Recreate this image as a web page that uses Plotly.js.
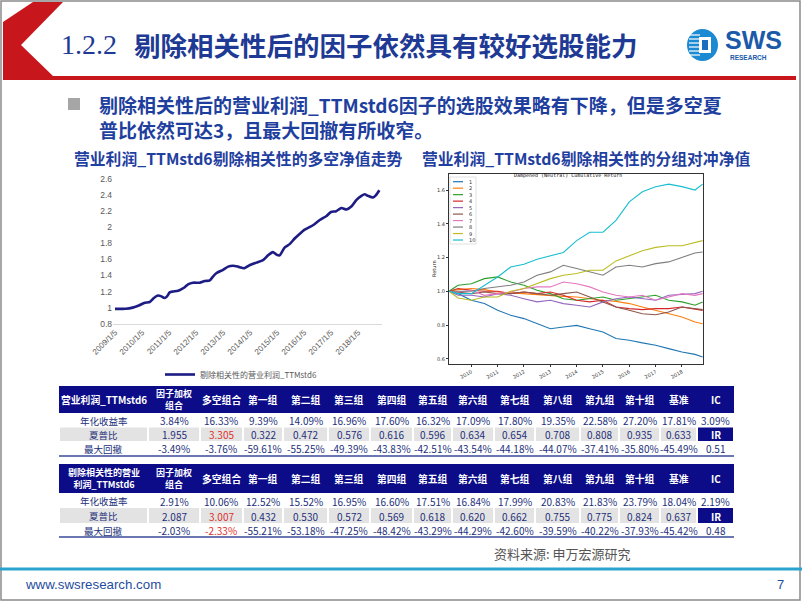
<!DOCTYPE html>
<html><head><meta charset="utf-8">
<script src="https://cdn.plot.ly/plotly-3.0.1.min.js"></script>
<style>html,body{margin:0;padding:0;overflow:hidden;background:#fff}#c{width:802px;height:602px}</style>
</head><body><div id="c"></div>
<script>
// ---------------- DATA ----------------
// Left chart: long-short net value
const lsName = '剔除相关性的营业利润_TTMstd6';
const lsDates = ['2009-01-05','2009-06-01','2009-09-01','2009-12-01','2010-02-10','2010-04-20','2010-06-15','2010-08-10','2010-09-25','2010-11-05','2010-12-10','2011-01-15','2011-03-01','2011-05-10','2011-08-01','2011-09-20','2011-11-25','2012-02-25','2012-05-01','2012-07-10','2012-08-25','2012-10-10','2013-01-05','2013-03-15','2013-05-20','2013-07-25','2013-10-20','2014-01-05','2014-04-01','2014-06-30','2014-09-05','2014-11-10','2014-12-28','2015-02-10','2015-04-20','2015-06-25','2015-09-01','2015-11-10','2016-01-15','2016-03-20','2016-05-30','2016-08-05','2016-11-05','2017-01-05','2017-03-15','2017-05-25','2017-08-01','2017-10-10','2017-12-15','2018-02-20','2018-04-05','2018-05-20','2018-07-25','2018-09-05','2018-10-20'];
const lsValues = [0.985,0.985,1.00,1.03,1.06,1.07,1.12,1.15,1.14,1.12,1.14,1.19,1.20,1.21,1.25,1.29,1.31,1.31,1.33,1.34,1.39,1.43,1.47,1.51,1.52,1.51,1.49,1.53,1.56,1.59,1.65,1.69,1.66,1.65,1.75,1.79,1.86,1.92,1.97,2.00,2.04,2.09,2.14,2.19,2.20,2.24,2.22,2.26,2.34,2.39,2.41,2.39,2.37,2.40,2.46];
const lsTickVals = ['2009-01-05','2010-01-05','2011-01-05','2012-01-05','2013-01-05','2014-01-05','2015-01-05','2016-01-05','2017-01-05','2018-01-05'];
const lsTickText = ['2009/1/5','2010/1/5','2011/1/5','2012/1/5','2013/1/5','2014/1/5','2015/1/5','2016/1/5','2017/1/5','2018/1/5'];

// Right chart: group hedged net values
const grpDates = ['2009-02-25','2009-07-01','2010-01-01','2010-07-01','2011-01-01','2011-07-01','2012-01-01','2012-07-01','2013-01-01','2013-07-01','2014-01-01','2014-07-01','2015-01-01','2015-07-01','2016-01-01','2016-07-01','2017-01-01','2017-07-01','2018-01-01','2018-07-01','2018-10-15'];
const grpNames = ['1','2','3','4','5','6','7','8','9','10'];
const g1  = [1.00,0.986,0.947,0.927,0.887,0.858,0.838,0.808,0.778,0.788,0.798,0.778,0.759,0.720,0.710,0.694,0.680,0.660,0.640,0.626,0.610];
const g2  = [1.00,1.010,1.016,1.010,0.996,0.990,0.986,0.980,0.976,0.970,0.966,0.955,0.947,0.940,0.927,0.907,0.887,0.870,0.848,0.818,0.808];
const g3  = [1.00,1.036,1.045,1.075,1.085,1.055,1.036,1.006,0.986,0.956,0.947,0.956,0.966,0.947,0.956,0.966,0.976,0.947,0.937,0.917,0.937];
const g4  = [1.00,1.016,1.006,1.000,1.000,0.986,0.996,0.986,0.996,0.976,0.947,0.937,0.947,0.907,0.897,0.891,0.897,0.897,0.907,0.897,0.887];
const g5  = [1.00,0.976,0.976,0.966,0.986,0.976,0.956,0.937,0.947,0.927,0.917,0.907,0.937,0.956,0.966,0.956,0.947,0.976,0.980,0.986,1.000];
const g6  = [1.00,0.996,0.986,0.996,0.986,0.986,0.996,0.986,0.976,0.986,0.996,0.966,0.937,0.907,0.887,0.867,0.861,0.877,0.907,0.897,0.891];
const g7  = [1.00,0.996,1.006,0.976,0.986,0.996,1.016,1.026,1.026,1.055,1.045,1.026,0.996,0.976,0.966,0.976,0.947,0.966,0.986,0.976,0.986];
const g8  = [1.00,1.000,1.000,1.016,1.026,1.036,1.055,1.095,1.115,1.154,1.135,1.115,1.095,1.144,1.154,1.144,1.164,1.174,1.200,1.227,1.233];
const g9  = [1.00,0.960,0.947,0.966,0.966,1.000,1.016,1.045,1.075,1.095,1.105,1.125,1.125,1.180,1.210,1.240,1.260,1.270,1.270,1.290,1.300];
const g10 = [1.00,0.986,0.986,1.036,1.085,1.144,1.160,1.190,1.210,1.230,1.300,1.350,1.350,1.420,1.530,1.590,1.620,1.635,1.620,1.600,1.635];
const grpSeries = [g1,g2,g3,g4,g5,g6,g7,g8,g9,g10];
const grpTickVals = ['2010-01-01','2011-01-01','2012-01-01','2013-01-01','2014-01-01','2015-01-01','2016-01-01','2017-01-01','2018-01-01'];
const grpTickText = ['2010','2011','2012','2013','2014','2015','2016','2017','2018'];
const grpYTicks = [0.6,0.8,1.0,1.2,1.4,1.6];

// Tables
const tblHeader1 = ['营业利润_TTMstd6','因子加权<br>组合','多空组合','第一组','第二组','第三组','第四组','第五组','第六组','第七组','第八组','第九组','第十组','基准','IC'];
const tblHeader2 = ['剔除相关性的营业<br>利润_TTMstd6','因子加权<br>组合','多空组合','第一组','第二组','第三组','第四组','第五组','第六组','第七组','第八组','第九组','第十组','基准','IC'];
const rowLabels = ['年化收益率','夏普比','最大回撤'];
const t1Return   = ['3.84%','16.33%','9.39%','14.09%','16.96%','17.60%','16.32%','17.09%','17.80%','19.35%','22.58%','27.20%','17.81%','3.09%'];
const t1Sharpe   = ['1.955','3.305','0.322','0.472','0.576','0.616','0.596','0.634','0.654','0.708','0.808','0.935','0.633','IR'];
const t1Drawdown = ['-3.49%','-3.76%','-59.61%','-55.25%','-49.39%','-43.83%','-42.51%','-43.54%','-44.18%','-44.07%','-37.41%','-35.80%','-45.49%','0.51'];
const t2Return   = ['2.91%','10.06%','12.52%','15.52%','16.95%','16.60%','17.51%','16.84%','17.99%','20.83%','21.83%','23.79%','18.04%','2.19%'];
const t2Sharpe   = ['2.087','3.007','0.432','0.530','0.572','0.569','0.618','0.620','0.662','0.755','0.775','0.824','0.637','IR'];
const t2Drawdown = ['-2.03%','-2.33%','-55.21%','-53.18%','-47.25%','-48.42%','-43.29%','-44.29%','-42.60%','-39.59%','-40.22%','-37.93%','-45.42%','0.48'];

// ---------------- DRAWING ----------------
const W=802,H=602;
const X=p=>p/W, Y=p=>1-p/H;
const CJK="'Noto Sans CJK SC', sans-serif";
const NAVY='#0c0c88', TXT='#23307a', RED='#e0302c', GRAY='#e3e3e3';
const grpColors=['#1f77b4','#ff7f0e','#2ca02c','#d62728','#9467bd','#8c564b','#e377c2','#7f7f7f','#bcbd22','#17becf'];
const shapes=[], anns=[];
function rect(x0,y0,x1,y1,fill,line){shapes.push({type:'rect',xref:'paper',yref:'paper',x0:X(x0),x1:X(x1),y0:Y(y1),y1:Y(y0),fillcolor:fill,line:line||{width:0}});}
function seg(x0,y0,x1,y1,color,w){shapes.push({type:'line',xref:'paper',yref:'paper',x0:X(x0),x1:X(x1),y0:Y(y0),y1:Y(y1),line:{color:color,width:w}});}
function txt(x,y,text,size,color,family,xanchor,extra){anns.push(Object.assign({xref:'paper',yref:'paper',x:X(x),y:Y(y),text:text,showarrow:false,xanchor:xanchor||'center',yanchor:'middle',font:{size:size,color:color,family:family||CJK}},extra||{}));}
function path(pts,fill){let d='';pts.forEach((p,i)=>{d+=(i?' L':'M')+X(p[0])+','+Y(p[1]);});shapes.push({type:'path',xref:'paper',yref:'paper',path:d+' Z',fillcolor:fill,line:{width:0}});}

// slide frame
rect(1,1,800,600,'rgba(0,0,0,0)',{color:'#8a8a8a',width:1.5});
// red chevron + red rule
path([[33,2],[63,2],[21,45],[53,76],[796,76],[796,80],[3,80],[3,22]],'#c8161d');
// title
txt(59,45,'1.2.2',28,'#1e3a94',"'Liberation Serif', serif",'left');
txt(132,45,'<b>剔除相关性后的因子依然具有较好选股能力</b>',26.5,'#1e3a94',CJK,'left');
// logo
shapes.push({type:'circle',xref:'paper',yref:'paper',x0:X(687),x1:X(718),y0:Y(61),y1:Y(29),fillcolor:'#1b8ad3',line:{width:0}});
[35,39,43,47,51,55].forEach(yy=>seg(689,yy,700,yy,'#ffffff',1.2));
rect(699,37,711,53,'#ffffff');
rect(702,40,708,50,'#1b6fc0');
txt(753,40,'<b>SWS</b>',25,'#1a5aa8',"'Liberation Sans', sans-serif");
txt(748,57,'<b>RESEARCH</b>',6.5,'#1a5aa8',"'Liberation Sans', sans-serif");
// bullet
rect(68,98,80,110,'#a6a6a6');
txt(97,104,'<b>剔除相关性后的营业利润_TTMstd6因子的选股效果略有下降，但是多空夏</b>',19,'#1f3f9e',CJK,'left');
txt(97,130,'<b>普比依然可达3，且最大回撤有所收窄。</b>',19,'#1f3f9e',CJK,'left');
// chart titles
txt(72,158,'<b>营业利润_TTMstd6剔除相关性的多空净值走势</b>',15.8,'#1f40a0',CJK,'left');
txt(420,158,'<b>营业利润_TTMstd6剔除相关性的分组对冲净值</b>',15.8,'#1f40a0',CJK,'left');
// right chart internal title and y label
txt(568,175,'Dampened (Neutral) Cumulative Return',5,'#111',"'DejaVu Sans Mono', monospace");
txt(434,269,'Return',5,'#222',"'DejaVu Sans', sans-serif",'center',{textangle:-90});
// right chart legend (matplotlib-style box)
rect(450,177,476,244,'rgba(255,255,255,0.85)',{color:'#cccccc',width:0.6});
grpNames.forEach((n,i)=>{const yy=181.7+i*6.48; seg(453,yy,463,yy,grpColors[i],1.2); txt(467,yy,n,5,'#333',"'DejaVu Sans', sans-serif",'left');});

// tables
const colW=[89,52,43,40,45,42,43,39,42,41,45,39,41,37,37];
function drawTable(ys, header, rows, redCells){
  const e=[59]; colW.forEach(w=>e.push(e[e.length-1]+w));
  rect(e[0],ys[0],e[e.length-1],ys[1],NAVY);
  header.forEach((h,c)=>{
    const cx=(e[c]+e[c+1])/2, cy=(ys[0]+ys[1])/2;
    const two=h.indexOf('<br>')>=0;
    txt(cx,cy,'<b>'+h+'</b>',two?9:9.8,'#ffffff');
  });
  for(let r=0;r<3;r++){
    const y0=ys[r+1], y1=ys[r+2], cy=(y0+y1)/2;
    for(let c=0;c<15;c++){
      const isIR=(r===1&&c===14);
      if(r===1) rect(e[c]+1,y0,e[c+1]-1,y1,isIR?NAVY:GRAY);
      const v=c===0?rowLabels[r]:rows[r][c-1];
      const isRed=redCells.some(p=>p[0]===r&&p[1]===c);
      txt((e[c]+e[c+1])/2,cy+0.5,isIR?'<b>'+v+'</b>':v,c===0?9.5:10,isIR?'#ffffff':(isRed?RED:TXT));
    }
  }
  seg(e[0],ys[4],e[e.length-1],ys[4],'#3a4a9a',1.5);
}
drawTable([386,413,427.5,441,456],tblHeader1,[t1Return,t1Sharpe,t1Drawdown],[[1,2]]);
drawTable([464,493,508,523,537],tblHeader2,[t2Return,t2Sharpe,t2Drawdown],[[1,2],[2,2]]);

// footer
txt(492,553,'资料来源: 申万宏源研究',13,'#555555',CJK,'left');
seg(0,569,802,569,'#2aa3cf',3);
txt(23,584,'www.swsresearch.com',13.3,'#1f4e9e',"'Liberation Sans', sans-serif",'left');
txt(780,584,'7',13,'#1f4e9e',"'Liberation Sans', sans-serif");

// traces
const traces=[{x:lsDates,y:lsValues,type:'scatter',mode:'lines',name:lsName,xaxis:'x',yaxis:'y',
  line:{color:'#1c1c84',width:2.6,shape:'spline',smoothing:0.6},hoverinfo:'skip'}];
grpSeries.forEach((s,i)=>traces.push({x:grpDates,y:s,type:'scatter',mode:'lines',name:grpNames[i],xaxis:'x2',yaxis:'y2',
  line:{color:grpColors[i],width:1.1},showlegend:false,hoverinfo:'skip'}));

const layout={
  width:W,height:H,margin:{l:0,r:0,t:0,b:0},paper_bgcolor:'#ffffff',plot_bgcolor:'rgba(0,0,0,0)',
  font:{family:CJK},
  showlegend:true,
  legend:{x:X(160),y:Y(360),xanchor:'left',yanchor:'top',orientation:'h',itemwidth:30,font:{size:8,color:'#595959',family:CJK},bgcolor:'rgba(0,0,0,0)'},
  xaxis:{domain:[X(113),X(382)],anchor:'y',type:'date',range:['2008-12-09','2018-11-25'],tickvals:lsTickVals,ticktext:lsTickText,
    tickangle:-45,tickfont:{size:8,color:'#595959',family:"'Liberation Sans', sans-serif"},showline:true,linecolor:'#d9d9d9',linewidth:1,
    showgrid:false,zeroline:false,ticks:''},
  yaxis:{domain:[Y(323.7),Y(179)],anchor:'x',range:[0.8,2.6],tick0:0.8,dtick:0.2,tickfont:{size:8.5,color:'#595959',family:"'Liberation Sans', sans-serif"},
    showgrid:false,showline:false,zeroline:false,ticks:''},
  xaxis2:{domain:[X(449),X(703)],anchor:'y2',type:'date',range:['2009-02-25','2018-10-20'],tickvals:grpTickVals,ticktext:grpTickText,
    tickangle:-30,tickfont:{size:5,color:'#333',family:"'DejaVu Sans', sans-serif"},showline:true,mirror:true,linecolor:'#333',linewidth:1,
    ticks:'outside',ticklen:2,tickcolor:'#333',showgrid:false,zeroline:false},
  yaxis2:{domain:[Y(364),Y(174)],anchor:'x2',range:[0.569,1.695],tickvals:grpYTicks,tickformat:'.1f',
    tickfont:{size:5,color:'#333',family:"'DejaVu Sans', sans-serif"},showline:true,mirror:true,linecolor:'#333',linewidth:1,
    ticks:'outside',ticklen:2,tickcolor:'#333',showgrid:false,zeroline:false},
  shapes:shapes,annotations:anns
};
Plotly.newPlot('c',traces,layout,{staticPlot:true,displayModeBar:false});
</script></body></html>
